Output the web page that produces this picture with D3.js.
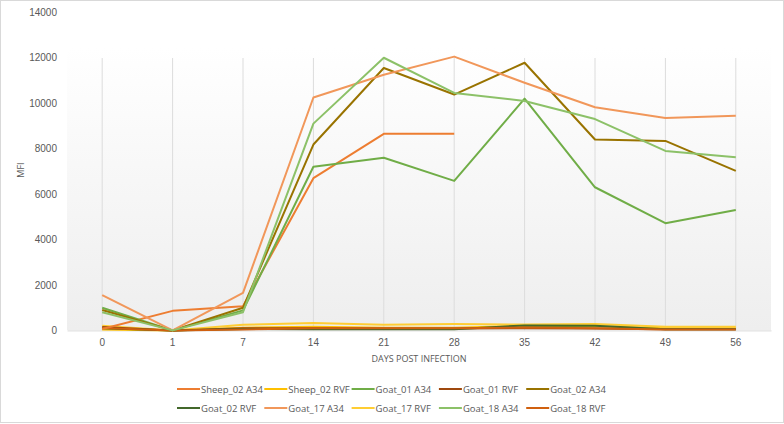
<!DOCTYPE html>
<html lang="en">
<head>
  <meta charset="UTF-8">
  <title>MFI by days post infection</title>
  <style>
    body { margin: 0; background: #fff; }
    svg { display: block; font-family: "Open Sans", "Liberation Sans", sans-serif; }
    .tick text { fill: #595959; font-size: 10px; }
  </style>
</head>
<body>
  <div id="chart"></div>
  <script src="https://d3js.org/d3.v7.min.js"></script>
  <script>
    const days = ['0', '1', '7', '14', '21', '28', '35', '42', '49', '56'];
    const yTicks = [0, 2000, 4000, 6000, 8000, 10000, 12000, 14000];

    const seriesNames = ['Sheep_02 A34', 'Sheep_02 RVF', 'Goat_01 A34', 'Goat_01 RVF', 'Goat_02 A34',
      'Goat_02 RVF', 'Goat_17 A34', 'Goat_17 RVF', 'Goat_18 A34', 'Goat_18 RVF'];
    const seriesColors = ['#ED7D31', '#FFC000', '#70AD47', '#9E480E', '#997300',
      '#43682B', '#F1975A', '#FFCD33', '#8CC168', '#D0600F'];

    const sheep02A34 = [60, 860, 1060, 6700, 8650, 8650, null, null, null, null];
    const sheep02RVF = [40, 0, 120, 160, 120, 120, 200, 180, 90, 90];
    const goat01A34 = [1000, 0, 880, 7200, 7600, 6580, 10200, 6300, 4720, 5300];
    const goat01RVF = [150, 0, 90, 100, 80, 80, 100, 80, 50, 50];
    const goat02A34 = [900, 0, 1000, 8180, 11550, 10380, 11780, 8400, 8340, 7020];
    const goat02RVF = [100, 0, 60, 50, 50, 50, 220, 200, 50, 50];
    const goat17A34 = [1550, 0, 1650, 10250, 11250, 12050, 10900, 9820, 9350, 9450];
    const goat17RVF = [200, 0, 250, 330, 250, 280, 260, 280, 160, 160];
    const goat18A34 = [800, 0, 800, 9100, 12000, 10450, 10100, 9300, 7900, 7620];
    const goat18RVF = [110, 0, 40, 100, 90, 90, 130, 100, 40, 40];

    const allSeries = [sheep02A34, sheep02RVF, goat01A34, goat01RVF, goat02A34,
      goat02RVF, goat17A34, goat17RVF, goat18A34, goat18RVF];

    const width = 784, height = 424;
    const plot = { left: 67, right: 771, top: 48, bottom: 330 };

    const svg = d3.select('#chart').append('svg')
      .attr('width', width)
      .attr('height', height);

    // outer frame
    svg.append('rect')
      .attr('x', 0.5).attr('y', 0.5)
      .attr('width', width - 1).attr('height', height - 2)
      .attr('fill', '#fff').attr('stroke', '#d9d9d9');

    const defs = svg.append('defs');
    const grad = defs.append('linearGradient')
      .attr('id', 'bg').attr('x1', 0).attr('y1', 0).attr('x2', 0).attr('y2', 1);
    grad.append('stop').attr('offset', '0%').attr('stop-color', '#ffffff');
    grad.append('stop').attr('offset', '100%').attr('stop-color', '#eeeeee');

    const xScale = d3.scaleBand()
      .domain(days)
      .range([plot.left, plot.right]);

    const yScale = d3.scaleLinear()
      .domain([0, 14000])
      .range([330.4, 12.3]);

    svg.append('rect')
      .attr('x', plot.left).attr('y', plot.top)
      .attr('width', plot.right - plot.left).attr('height', plot.bottom - plot.top)
      .attr('fill', 'url(#bg)');

    const xc = d => xScale(d) + xScale.bandwidth() / 2;

    // vertical grid lines
    svg.append('g').selectAll('line')
      .data(days)
      .enter().append('line')
      .attr('x1', d => xc(d)).attr('x2', d => xc(d))
      .attr('y1', yScale(0)).attr('y2', plot.top + 10)
      .attr('stroke', '#dcdcdc').attr('stroke-width', 1);

    // x axis
    const xAxis = svg.append('g')
      .attr('transform', `translate(0, ${yScale(0)})`)
      .call(d3.axisBottom(xScale).tickSize(0).tickPadding(9));
    xAxis.select('.domain').attr('stroke', '#d9d9d9');

    // y axis
    const yAxis = svg.append('g')
      .attr('transform', `translate(${plot.left}, 0)`)
      .call(d3.axisLeft(yScale).tickValues(yTicks).tickSize(0).tickPadding(10).tickFormat(d3.format('d')));
    yAxis.select('.domain').remove();

    svg.append('text')
      .attr('x', 419).attr('y', 362)
      .attr('text-anchor', 'middle')
      .attr('fill', '#595959').attr('font-size', 9)
      .text('DAYS POST INFECTION');

    svg.append('text')
      .attr('transform', 'translate(24, 170) rotate(-90)')
      .attr('text-anchor', 'middle')
      .attr('fill', '#595959').attr('font-size', 9)
      .text('MFI');

    const line = d3.line()
      .defined(d => d != null)
      .x((d, i) => xc(days[i]))
      .y(d => yScale(d));

    // draw low series first, big ones on top
    const order = [1, 7, 3, 5, 9, 0, 2, 4, 6, 8];
    svg.append('g').selectAll('path')
      .data(order)
      .enter().append('path')
      .attr('d', i => line(allSeries[i]))
      .attr('fill', 'none')
      .attr('stroke', i => seriesColors[i])
      .attr('stroke-width', 2)
      .attr('stroke-linejoin', 'round');

    // legend
    const legend = svg.append('g');
    seriesNames.forEach((name, i) => {
      const col = i % 5, row = Math.floor(i / 5);
      const lx = 177 + col * 87.3;
      const ly = 389 + row * 19;
      legend.append('line')
        .attr('x1', lx).attr('x2', lx + 23)
        .attr('y1', ly).attr('y2', ly)
        .attr('stroke', seriesColors[i]).attr('stroke-width', 2);
      legend.append('text')
        .attr('x', lx + 24).attr('y', ly + 3.5)
        .attr('fill', '#595959').attr('font-size', 9.5)
        .text(name);
    });
  </script>
</body>
</html>
